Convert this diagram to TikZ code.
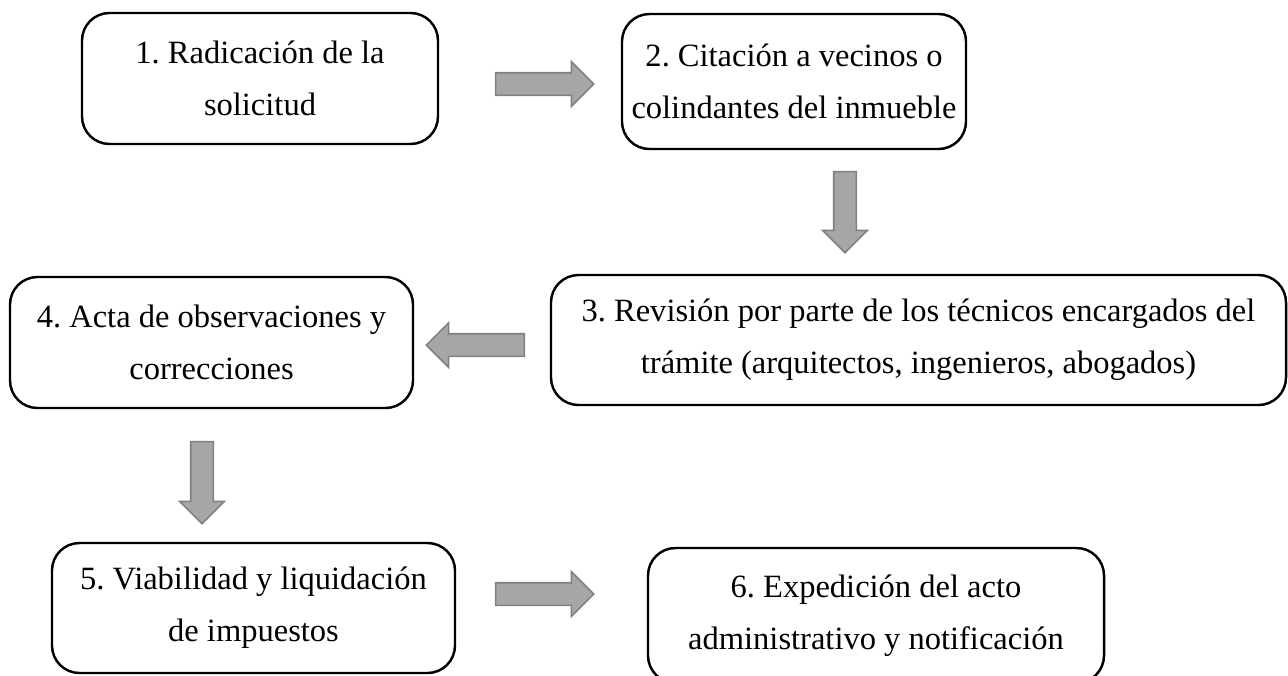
\documentclass[tikz,border=0pt]{standalone}
\usepackage{fontspec}
\setmainfont{Liberation Serif}
\usepackage{tikz}
\usetikzlibrary{shapes}
\usetikzlibrary{shapes.arrows}
\frenchspacing
\definecolor{arrowfill}{RGB}{166,166,166}
\definecolor{arrowline}{RGB}{128,128,128}
\tikzstyle{stepbox} = [rectangle, rounded corners = 0.55cm, draw = black, line width = 1.4pt, align = center, inner sep = 0, font = \fontsize{18.5}{29.5}\selectfont]
\tikzstyle{blockarrow} = [single arrow, draw = arrowline, fill = arrowfill, line width = 0.9pt, inner xsep = 0, inner ysep = 0.21cm, single arrow head extend = 0.22cm]
\begin{document}
\begin{tikzpicture}
\useasboundingbox (0,0) rectangle (25.76,-13.5);
\node [stepbox, minimum width = 7.12cm, minimum height = 2.62cm] (S1) at (5.2, -1.57) {1. Radicación de la\\solicitud};
\node [stepbox, minimum width = 6.88cm, minimum height = 2.7cm] (S2) at (15.88, -1.63) {2. Citación a vecinos o\\colindantes del inmueble};
\node [stepbox, minimum width = 14.7cm, minimum height = 2.6cm] (S3) at (18.37, -6.8) {3. Revisión por parte de los técnicos encargados del\\trámite (arquitectos, ingenieros, abogados)};
\node [stepbox, minimum width = 8.06cm, minimum height = 2.62cm] (S4) at (4.23, -6.85) {4. Acta de observaciones y\\correcciones};
\node [stepbox, minimum width = 8.06cm, minimum height = 2.6cm] (S5) at (5.07, -12.16) {5. Viabilidad y liquidación\\de impuestos};
\node [stepbox, minimum width = 9.12cm, minimum height = 2.7cm] (S6) at (17.52, -12.31) {6. Expedición del acto\\administrativo y notificación};
\node [blockarrow, minimum height = 1.96cm] (A12) at (10.78, -1.68) {};
\node [blockarrow, minimum height = 1.62cm, rotate = -90] (A23) at (16.9, -4.13) {};
\node [blockarrow, minimum height = 1.96cm, rotate = 180] (A34) at (9.62, -6.9) {};
\node [blockarrow, minimum height = 1.64cm, rotate = -90] (A45) at (4.04, -9.54) {};
\node [blockarrow, minimum height = 1.96cm] (A56) at (10.78, -11.88) {};
\end{tikzpicture}
\end{document}
